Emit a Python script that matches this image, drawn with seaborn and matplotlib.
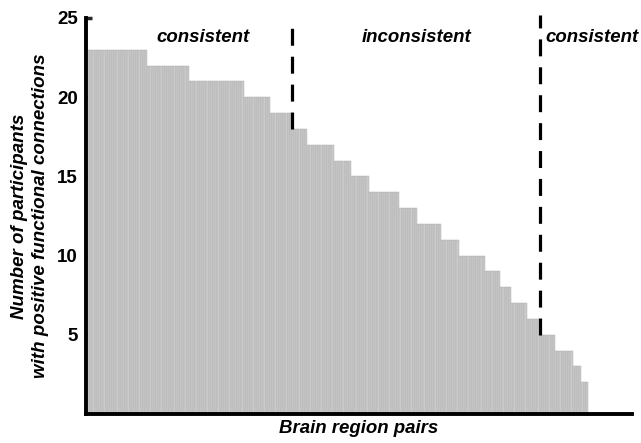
import numpy as np
import pandas as pd
import matplotlib
matplotlib.use("Agg")
import matplotlib.pyplot as plt
import seaborn as sns

# Participant counts per step and number of region pairs at each step
levels = [23, 22, 21, 20, 19, 18, 17, 16, 15, 14, 13, 12, 11, 10, 9, 8, 7, 6, 5, 4, 3, 2]
pair_counts = [27, 19, 25, 12, 10, 7, 12, 8, 8, 14, 8, 11, 8, 12, 7, 5, 7, 6, 7, 8, 4, 3]

# Group boundaries (in pairs) and group names
boundary_pairs = [93, 206]
boundary_tops = [24.4, 25.2]
boundary_bottoms = [18, 5]
group_names = ["consistent", "inconsistent", "consistent"]
group_centers = [52, 149.5, 229.5]

yticks = [5, 10, 15, 20, 25]

participants = np.repeat(levels, pair_counts)
df = pd.DataFrame({"pair": np.arange(len(participants)), "participants": participants})

sns.set_style("white")
plt.rcParams["font.family"] = ["Liberation Sans", "DejaVu Sans"]

fig = plt.figure(figsize=(6.41, 4.43), dpi=100)
ax = fig.add_axes([86 / 641, 1 - 414 / 443, (632 - 86) / 641, (414 - 18) / 443])

sns.barplot(data=df, x="pair", y="participants", ax=ax, width=1.0,
            color="#cacaca", saturation=1, edgecolor="#acacac", linewidth=0.3)

ax.set_xlim(-1.4, 247.6)
ax.set_ylim(0, 25)
ax.set_xticks([])
ax.set_yticks(yticks)
ax.set_yticklabels([str(t) for t in yticks], fontsize=13.5, fontweight="bold")
ax.tick_params(axis="y", direction="in", length=4, width=2.5, pad=6, left=True,
               labelcolor="black")

for side in ["top", "right"]:
    ax.spines[side].set_visible(False)
for side in ["left", "bottom"]:
    ax.spines[side].set_linewidth(2.8)
    ax.spines[side].set_color("black")

# Dashed group separators
for bp, yb, yt in zip(boundary_pairs, boundary_bottoms, boundary_tops):
    x = bp - 0.5
    ax.plot([x, x], [yb, yt], color="black", linewidth=2.3, clip_on=False,
            dashes=(12.2 / 2.3, 7.9 / 2.3), solid_capstyle="butt", dash_capstyle="butt")

for name, xc in zip(group_names, group_centers):
    ax.text(xc, 23.8, name, ha="center", va="center", fontsize=13.4,
            fontweight="bold", fontstyle="italic", clip_on=False, color="black")

ax.set_xlabel("Brain region pairs", fontsize=13.4, fontweight="bold",
              fontstyle="italic", labelpad=4, color="black")
ax.set_ylabel("Number of participants\nwith positive functional connections",
              fontsize=13.5, fontweight="bold", fontstyle="italic", labelpad=6,
              linespacing=1.25, color="black")

fig.savefig("out.png", dpi=100)
